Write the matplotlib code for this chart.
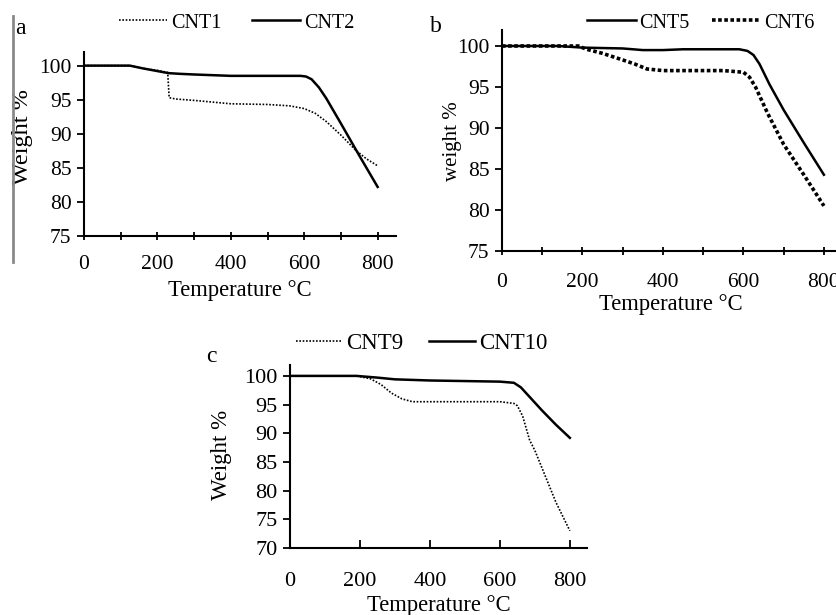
import matplotlib
matplotlib.use("Agg")
import matplotlib.pyplot as plt
from matplotlib.ticker import MultipleLocator
from matplotlib.lines import Line2D

plt.rcParams['font.family'] = ['Liberation Serif', 'DejaVu Serif']

# panel a
t_cnt1 = [0, 125, 170, 200, 228, 232, 250, 300, 400, 500, 560, 600, 630, 660, 700, 740, 770, 800]
w_cnt1 = [100, 100, 99.5, 99.3, 99.0, 95.3, 95.1, 94.9, 94.4, 94.3, 94.1, 93.7, 93.0, 91.8, 89.8, 87.6, 86.3, 85.3]
t_cnt2 = [0, 125, 160, 200, 230, 260, 300, 400, 500, 590, 605, 620, 640, 660, 700, 750, 800]
w_cnt2 = [100, 100, 99.6, 99.2, 98.9, 98.8, 98.7, 98.5, 98.5, 98.5, 98.4, 98.0, 96.8, 95.2, 91.5, 86.8, 82.2]

# panel b
t_cnt5 = [0, 140, 200, 300, 350, 400, 450, 590, 610, 625, 640, 665, 700, 750, 800]
w_cnt5 = [100, 100, 99.8, 99.7, 99.5, 99.5, 99.6, 99.6, 99.4, 98.9, 97.8, 95.3, 92.2, 88.2, 84.3]
t_cnt6 = [0, 190, 210, 250, 300, 330, 360, 400, 550, 600, 615, 630, 660, 700, 750, 800]
w_cnt6 = [100, 100, 99.6, 99.1, 98.3, 97.8, 97.2, 97.0, 97.0, 96.8, 96.2, 95.0, 91.8, 88.0, 84.3, 80.5]

# panel c
t_cnt9 = [0, 190, 230, 260, 290, 320, 350, 400, 600, 640, 650, 665, 685, 700, 720, 740, 760, 780, 800]
w_cnt9 = [100, 100, 99.5, 98.5, 97.0, 96.0, 95.5, 95.5, 95.5, 95.2, 94.8, 93.0, 88.8, 87.0, 84.0, 81.0, 78.0, 75.5, 73.0]
t_cnt10 = [0, 190, 250, 300, 400, 500, 600, 640, 660, 690, 720, 760, 800]
w_cnt10 = [100, 100, 99.7, 99.4, 99.2, 99.1, 99.0, 98.8, 98.0, 96.0, 94.0, 91.5, 89.2]

W, H = 836, 615
fig = plt.figure(figsize=(W / 100, H / 100), dpi=100)


def box(left, right, bottom, top):
    # pixel box (top-down y) -> figure fraction
    return [left / W, 1 - bottom / H, (right - left) / W, (bottom - top) / H]


def style(ax, xmax, ymin, ymax, xminor, xdir, fs, xpad):
    ax.set_xlim(0, xmax)
    ax.set_ylim(ymin, ymax)
    for s in ['top', 'right']:
        ax.spines[s].set_visible(False)
    for s in ['left', 'bottom']:
        ax.spines[s].set_linewidth(1.5)
    ax.xaxis.set_major_locator(MultipleLocator(200))
    if xminor:
        ax.xaxis.set_minor_locator(MultipleLocator(100))
    ax.yaxis.set_major_locator(MultipleLocator(5))
    ax.tick_params(axis='x', which='both', direction=xdir, length=6, width=1.3, labelsize=fs, pad=xpad)
    ax.tick_params(axis='y', direction='out', length=5, width=1.3, labelsize=fs, pad=4)


# a
ax1 = fig.add_axes(box(84, 396, 236, 52))
ax1.plot(t_cnt1, w_cnt1, color='black', lw=1.2, ls=(0, (1, 1)), label='CNT1')
ax1.plot(t_cnt2, w_cnt2, color='black', lw=1.8, label='CNT2')
style(ax1, 850, 75, 102, True, 'inout', 15.5, 11)
ax1.set_xlabel('Temperature °C', fontsize=16.3, labelpad=4)
ax1.set_ylabel('Weight %', fontsize=17.5)
ax1.yaxis.set_label_coords(-0.163, 0.54)
ax1.legend(loc='center', bbox_to_anchor=(237 / W, 1 - 23 / H), bbox_transform=fig.transFigure,
           ncol=2, frameon=False, fontsize=14.5, handlelength=2.4, handletextpad=0.2, columnspacing=1.5)

# b
ax2 = fig.add_axes(box(502, 840, 251, 30))
ax2.plot(t_cnt5, w_cnt5, color='black', lw=1.8, label='CNT5')
ax2.plot(t_cnt6, w_cnt6, color='black', lw=2.6, ls=(0, (1, 0.7)), label='CNT6')
style(ax2, 840, 75, 101.95, True, 'inout', 15.5, 12.5)
ax2.set_xlabel('Temperature °C', fontsize=16.3, labelpad=1.5)
ax2.set_ylabel('weight %', fontsize=15)
ax2.yaxis.set_label_coords(-0.118, 0.498)
ax2.legend(loc='center', bbox_to_anchor=(701 / W, 1 - 23 / H), bbox_transform=fig.transFigure,
           ncol=2, frameon=False, fontsize=14.5, handlelength=2.4, handletextpad=0.2, columnspacing=1.1)

# c
ax3 = fig.add_axes(box(290, 587, 548, 365))
ax3.plot(t_cnt9, w_cnt9, color='black', lw=1.2, ls=(0, (1, 1)), label='CNT9')
ax3.plot(t_cnt10, w_cnt10, color='black', lw=1.8, label='CNT10')
style(ax3, 849, 70, 101.9, False, 'in', 16, 17)
ax3.set_xlabel('Temperature °C', fontsize=16.3, labelpad=3.5)
ax3.set_ylabel('Weight %', fontsize=16.5)
ax3.yaxis.set_label_coords(-0.195, 0.508)
ax3.legend(loc='center', bbox_to_anchor=(422 / W, 1 - 343 / H), bbox_transform=fig.transFigure,
           ncol=2, frameon=False, fontsize=16.5, handlelength=2.0, handletextpad=0.2, columnspacing=1.1)

# panel letters
fig.text(15 / W, 1 - 28 / H, 'a', fontsize=17, ha='left', va='center')
fig.text(430 / W, 1 - 27 / H, 'b', fontsize=17, ha='left', va='center')
fig.text(206 / W, 1 - 357 / H, 'c', fontsize=17, ha='left', va='center')

# grey border line at left
fig.add_artist(Line2D([12.5 / W, 12.5 / W], [1 - 16 / H, 1 - 262 / H], color='#8a8a8a', lw=2))

fig.savefig('out.png', dpi=100)
